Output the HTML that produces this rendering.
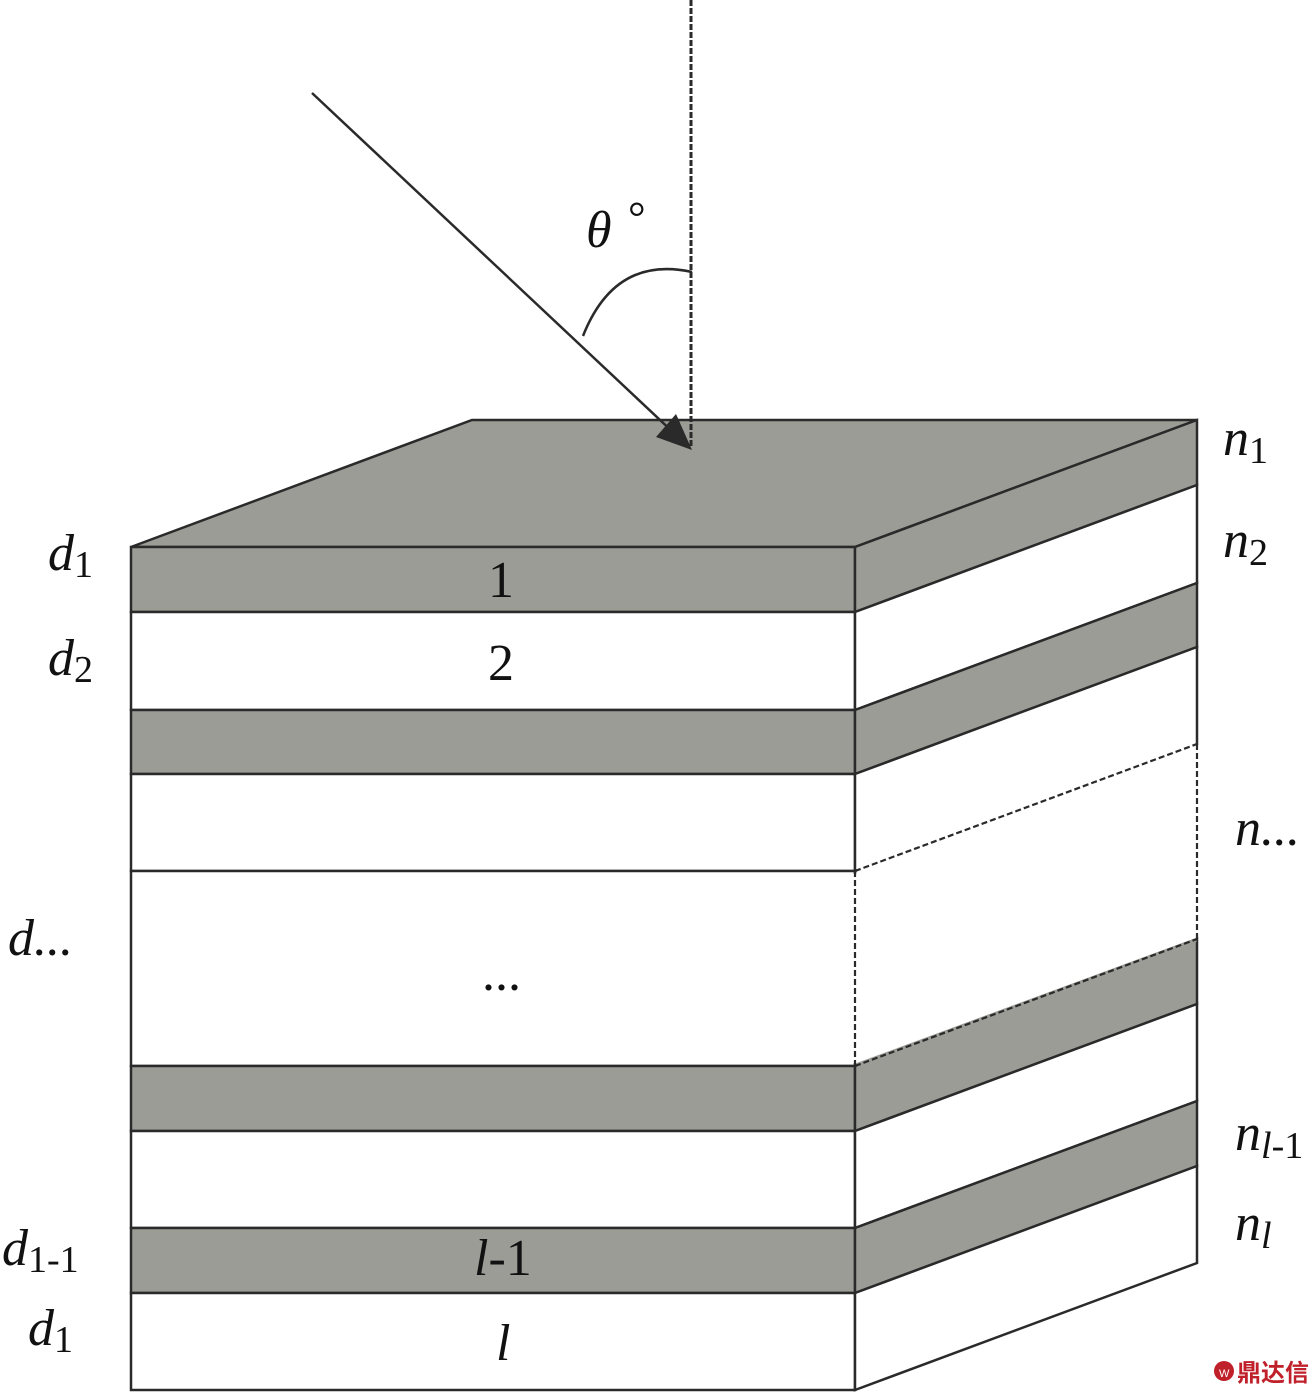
<!DOCTYPE html>
<html><head><style>html,body{margin:0;padding:0;background:#fff}svg{display:block}</style></head><body>
<svg width="1313" height="1394" viewBox="0 0 1313 1394" xmlns="http://www.w3.org/2000/svg" font-family="Liberation Serif, serif">
<g stroke="#2a2a2a" stroke-width="2.5" stroke-linejoin="miter">
<polygon points="131,547 472,420 1197,420 855,547" fill="#9c9c97"/>
<rect x="131" y="547" width="724" height="65" fill="#9c9c97"/>
<rect x="131" y="612" width="724" height="98" fill="#fff"/>
<rect x="131" y="710" width="724" height="64" fill="#9c9c97"/>
<rect x="131" y="774" width="724" height="97" fill="#fff"/>
<rect x="131" y="871" width="724" height="195" fill="#fff"/>
<rect x="131" y="1066" width="724" height="65" fill="#9c9c97"/>
<rect x="131" y="1131" width="724" height="97" fill="#fff"/>
<rect x="131" y="1228" width="724" height="65" fill="#9c9c97"/>
<rect x="131" y="1293" width="724" height="97" fill="#fff"/>
<polygon points="855,547 1197,420 1197,485 855,612" fill="#9c9c97"/>
<polygon points="855,612 1197,485 1197,583 855,710" fill="#fff"/>
<polygon points="855,710 1197,583 1197,647 855,774" fill="#9c9c97"/>
<polygon points="855,774 1197,647 1197,744 855,871" fill="#fff"/>
<polygon points="855,1066 1197,939 1197,1004 855,1131" fill="#9c9c97"/>
<polygon points="855,1131 1197,1004 1197,1101 855,1228" fill="#fff"/>
<polygon points="855,1228 1197,1101 1197,1166 855,1293" fill="#9c9c97"/>
<polygon points="855,1293 1197,1166 1197,1263 855,1390" fill="#fff"/>
</g>
<g stroke="#fff" stroke-width="4" fill="none">
<line x1="857" y1="870" x2="1196" y2="745"/>
<line x1="855" y1="874" x2="855" y2="1063"/>
</g>
<line x1="857" y1="1065" x2="1196" y2="940" stroke="#9c9c97" stroke-width="4"/>
<g stroke="#2a2a2a" stroke-width="2.2" stroke-dasharray="6,3" fill="none">
<line x1="855" y1="871" x2="1197" y2="744"/>
<line x1="1197" y1="744" x2="1197" y2="939"/>
<line x1="855" y1="871" x2="855" y2="1066"/>
<line x1="855" y1="1066" x2="1197" y2="939"/>
</g>
<line x1="691" y1="0" x2="691" y2="448" stroke="#2a2a2a" stroke-width="3" stroke-dasharray="6,2"/>
<line x1="312" y1="93" x2="676" y2="435" stroke="#2a2a2a" stroke-width="2.5"/>
<polygon points="692,450 656,437 676,414" fill="#2a2a2a"/>
<path d="M583,336 Q615,255 692,272" stroke="#2a2a2a" stroke-width="2.5" fill="none"/>
<g fill="#111" font-size="52">
<text x="586" y="247" font-style="italic">θ</text>
<text x="628" y="232" font-size="44">°</text>
<text x="488" y="597">1</text>
<text x="488" y="680">2</text>
<text x="482" y="990">...</text>
<text x="474" y="1275"><tspan font-style="italic">l</tspan>-1</text>
<text x="496" y="1360" font-style="italic">l</text>
<text x="48" y="570"><tspan font-style="italic">d</tspan><tspan font-size="38" dy="7">1</tspan></text>
<text x="48" y="675"><tspan font-style="italic">d</tspan><tspan font-size="38" dy="7">2</tspan></text>
<text x="8" y="955" font-style="italic">d...</text>
<text x="2" y="1265"><tspan font-style="italic">d</tspan><tspan font-size="38" dy="7">1-1</tspan></text>
<text x="28" y="1345"><tspan font-style="italic">d</tspan><tspan font-size="38" dy="7">1</tspan></text>
<text x="1223" y="455"><tspan font-style="italic">n</tspan><tspan font-size="38" dy="8">1</tspan></text>
<text x="1223" y="557"><tspan font-style="italic">n</tspan><tspan font-size="38" dy="8">2</tspan></text>
<text x="1235" y="845" font-style="italic">n...</text>
<text x="1235" y="1150"><tspan font-style="italic">n</tspan><tspan font-size="38" dy="8"><tspan font-style="italic">l</tspan>-1</tspan></text>
<text x="1235" y="1240"><tspan font-style="italic">n</tspan><tspan font-size="38" dy="8" font-style="italic">l</tspan></text>
</g>
<circle cx="1224" cy="1371" r="10" fill="#c0202a"/>
<text x="1219" y="1377" font-size="11" fill="#fff" font-family="Liberation Sans, sans-serif">W</text>
<text x="1237" y="1381" font-size="24" font-weight="bold" fill="#c0202a" font-family="Liberation Sans, 'Noto Sans CJK SC', sans-serif">鼎达信</text>
</svg>
</body></html>
